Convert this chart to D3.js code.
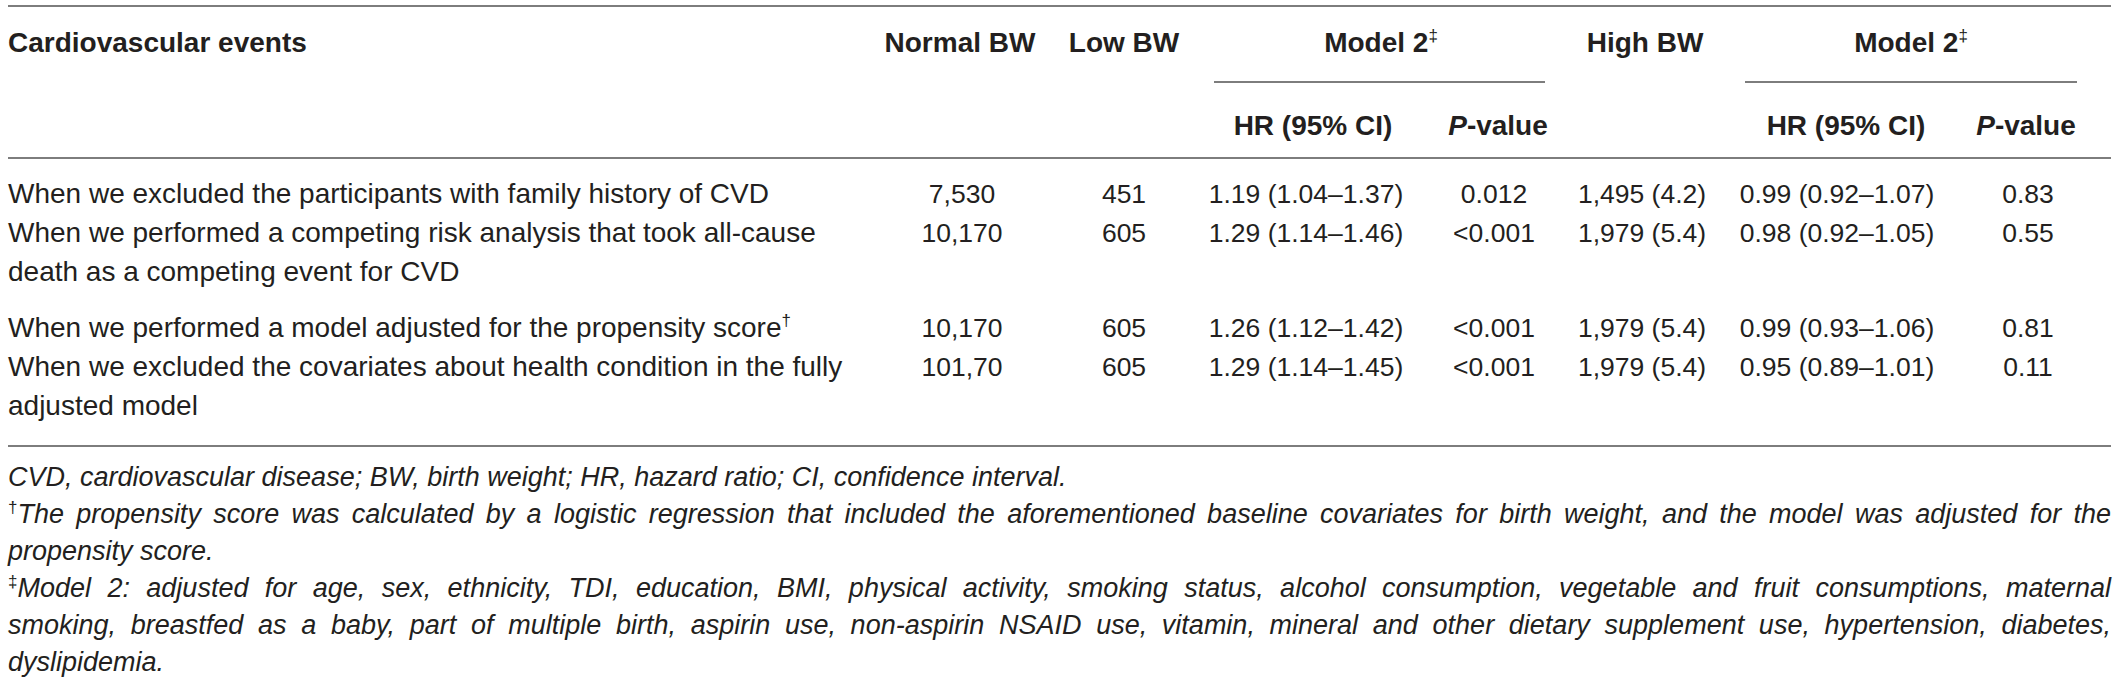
<!DOCTYPE html>
<html>
<head>
<meta charset="utf-8">
<script src="https://cdn.jsdelivr.net/npm/d3@7/dist/d3.min.js"></script>
<style>
  html, body { margin: 0; padding: 0; background: #ffffff; }
  svg { display: block; }
  text { font-family: "Liberation Sans", Arial, Helvetica, sans-serif; fill: #231f20; }
</style>
</head>
<body>
<svg id="chart" width="2119" height="686"></svg>
<script>
// ---------- data ----------
const headerCols = ["Cardiovascular events", "Normal BW", "Low BW", "Model 2", "High BW", "Model 2"];
const headerMarks = ["", "", "", "‡", "", "‡"];
const subCols = ["HR (95% CI)", "P-value", "HR (95% CI)", "P-value"];
const eventLines = [
  ["When we excluded the participants with family history of CVD"],
  ["When we performed a competing risk analysis that took all-cause", "death as a competing event for CVD"],
  ["When we performed a model adjusted for the propensity score"],
  ["When we excluded the covariates about health condition in the fully", "adjusted model"]
];
const eventMarks = ["", "", "†", ""];
const normalBW = ["7,530", "10,170", "10,170", "101,70"];
const lowBW = ["451", "605", "605", "605"];
const hrLow = ["1.19 (1.04–1.37)", "1.29 (1.14–1.46)", "1.26 (1.12–1.42)", "1.29 (1.14–1.45)"];
const pLow = ["0.012", "<0.001", "<0.001", "<0.001"];
const highBW = ["1,495 (4.2)", "1,979 (5.4)", "1,979 (5.4)", "1,979 (5.4)"];
const hrHigh = ["0.99 (0.92–1.07)", "0.98 (0.92–1.05)", "0.99 (0.93–1.06)", "0.95 (0.89–1.01)"];
const pHigh = ["0.83", "0.55", "0.81", "0.11"];
const footnotes = [
  { mark: "", text: "CVD, cardiovascular disease; BW, birth weight; HR, hazard ratio; CI, confidence interval.", justify: false },
  { mark: "†", text: "The propensity score was calculated by a logistic regression that included the aforementioned baseline covariates for birth weight, and the model was adjusted for the", justify: true },
  { mark: "", text: "propensity score.", justify: false },
  { mark: "‡", text: "Model 2: adjusted for age, sex, ethnicity, TDI, education, BMI, physical activity, smoking status, alcohol consumption, vegetable and fruit consumptions, maternal", justify: true },
  { mark: "", text: "smoking, breastfed as a baby, part of multiple birth, aspirin use, non-aspirin NSAID use, vitamin, mineral and other dietary supplement use, hypertension, diabetes,", justify: true },
  { mark: "", text: "dyslipidemia.", justify: false }
];

// ---------- layout ----------
const svg = d3.select("#chart");
const left = 8, right = 2111;
const ruleColor = "#7d7d7d";

const colX = d3.scaleOrdinal()
  .domain(["normal", "low", "hrLow", "pLow", "high", "hrHigh", "pHigh"])
  .range([962, 1124, 1306, 1494, 1642, 1837, 2028]);
const headX = d3.scaleOrdinal()
  .domain(headerCols.map((d, i) => i))
  .range([left, 960, 1124, 1381, 1645, 1911]);
const subX = d3.scaleOrdinal()
  .domain([0, 1, 2, 3])
  .range([1313, 1498, 1846, 2026]);

const rowY = d3.scaleOrdinal().domain([0, 1, 2, 3]).range([203, 242, 337, 376]);
const lineStep = 38.6;
const footY = d3.scaleLinear().domain([0, 1]).range([486, 523]);

// rules
const rules = [
  { x1: left, x2: right, y: 6 },
  { x1: 1214, x2: 1545, y: 82 },
  { x1: 1745, x2: 2077, y: 82 },
  { x1: left, x2: right, y: 158 },
  { x1: left, x2: right, y: 446 }
];
svg.selectAll("line.rule").data(rules).join("line")
  .attr("class", "rule")
  .attr("x1", d => d.x1).attr("x2", d => d.x2)
  .attr("y1", d => d.y).attr("y2", d => d.y)
  .attr("stroke", ruleColor).attr("stroke-width", 1.8);

// header row
const head = svg.selectAll("text.head").data(headerCols).join("text")
  .attr("class", "head")
  .attr("x", (d, i) => headX(i))
  .attr("y", 52)
  .attr("text-anchor", (d, i) => i === 0 ? "start" : "middle")
  .attr("font-size", 28)
  .attr("font-weight", "bold");
head.append("tspan").text(d => d);
head.filter((d, i) => headerMarks[i] !== "")
  .append("tspan")
  .attr("font-size", 17).attr("dy", -11)
  .attr("font-weight", "normal")
  .text((d, i, n) => "‡");

// sub header row
const sub = svg.selectAll("text.sub").data(subCols).join("text")
  .attr("class", "sub")
  .attr("x", (d, i) => subX(i))
  .attr("y", 135)
  .attr("text-anchor", "middle")
  .attr("font-size", 28)
  .attr("font-weight", "bold");
sub.each(function (d) {
  const t = d3.select(this);
  if (d === "P-value") {
    t.append("tspan").attr("font-style", "italic").text("P");
    t.append("tspan").text("-value");
  } else {
    t.text(d);
  }
});

// body: event labels
eventLines.forEach((lines, r) => {
  const t = svg.append("text")
    .attr("class", "event")
    .attr("x", left)
    .attr("y", rowY(r))
    .attr("font-size", 28);
  lines.forEach((ln, k) => {
    t.append("tspan")
      .attr("x", left)
      .attr("y", rowY(r) + k * lineStep)
      .text(ln);
  });
  if (eventMarks[r]) {
    t.append("tspan").attr("font-size", 17).attr("dy", -11).text(eventMarks[r]);
  }
});

// body: value cells
const valueCols = [
  ["normal", normalBW], ["low", lowBW], ["hrLow", hrLow], ["pLow", pLow],
  ["high", highBW], ["hrHigh", hrHigh], ["pHigh", pHigh]
];
valueCols.forEach(([key, vals]) => {
  svg.selectAll("text.v-" + key).data(vals).join("text")
    .attr("class", "v-" + key)
    .attr("x", colX(key))
    .attr("y", (d, i) => rowY(i))
    .attr("text-anchor", "middle")
    .attr("font-size", 26.5)
    .text(d => d);
});

// footnotes
const fn = svg.selectAll("text.foot").data(footnotes).join("text")
  .attr("class", "foot")
  .attr("x", left)
  .attr("y", (d, i) => footY(i))
  .attr("font-size", 27)
  .attr("font-style", "italic");
fn.each(function (d) {
  const t = d3.select(this);
  if (d.mark) {
    t.append("tspan").attr("font-size", 17).attr("font-style", "normal").attr("dy", -10).text(d.mark);
    t.append("tspan").attr("dy", 10).text(d.text);
  } else {
    t.append("tspan").text(d.text);
  }
  if (d.justify) {
    const w = this.getComputedTextLength();
    const spaces = (d.text.match(/ /g) || []).length;
    const extra = (right - left - w) / spaces;
    t.attr("word-spacing", extra);
  }
});
</script>
</body>
</html>
